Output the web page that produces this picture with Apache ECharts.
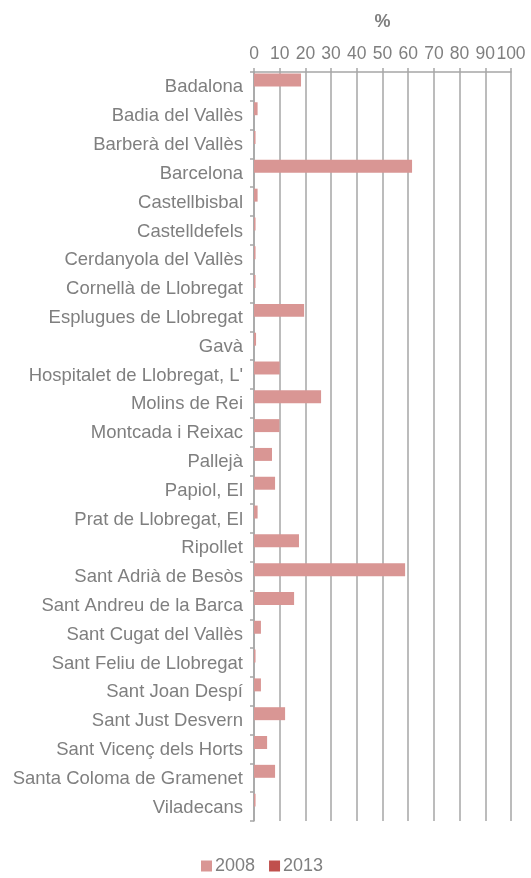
<!DOCTYPE html>
<html>
<head>
<meta charset="utf-8">
<script src="https://cdn.jsdelivr.net/npm/echarts@6/dist/echarts.min.js"></script>
<style>
  html, body { margin: 0; padding: 0; background: #fff; }
  #chart { width: 531px; height: 878px; }
</style>
</head>
<body>
<div id="chart"></div>
<script>
// Municipalities, top to bottom
const municipis = [
  'Badalona', 'Badia del Vallès', 'Barberà del Vallès', 'Barcelona', 'Castellbisbal',
  'Castelldefels', 'Cerdanyola del Vallès', 'Cornellà de Llobregat', 'Esplugues de Llobregat',
  'Gavà', "Hospitalet de Llobregat, L'", 'Molins de Rei', 'Montcada i Reixac', 'Pallejà',
  'Papiol, El', 'Prat de Llobregat, El', 'Ripollet', 'Sant Adrià de Besòs',
  'Sant Andreu de la Barca', 'Sant Cugat del Vallès', 'Sant Feliu de Llobregat',
  'Sant Joan Despí', 'Sant Just Desvern', 'Sant Vicenç dels Horts',
  'Santa Coloma de Gramenet', 'Viladecans'
];

// Percentages per year
const valors2008 = [
  18.3, 1.4, 0.6, 61.5, 1.4,
  0.6, 0.6, 0.6, 19.5,
  0.8, 10.0, 26.1, 9.9, 7.0,
  8.2, 1.4, 17.5, 58.8,
  15.6, 2.7, 0.6,
  2.7, 12.1, 5.1,
  8.2, 0.6
];
const valors2013 = [
  0, 0, 0, 0, 0,
  0, 0, 0, 0,
  0, 0, 0, 0, 0,
  0, 0, 0, 0,
  0, 0, 0,
  0, 0, 0,
  0, 0
];

const series = ['2008', '2013'];
const colors = ['#d99694', '#c0504d'];

const gray = '#7f7f7f';
const lineGray = '#a6a6a6';
const font = 'Liberation Sans, Arial, sans-serif';

const chart = echarts.init(document.getElementById('chart'));
chart.setOption({
  animation: false,
  textStyle: { fontFamily: font },
  grid: { left: 254, right: 20, top: 72, bottom: 57 },
  legend: {
    data: series,
    bottom: -2,
    left: 196,
    itemWidth: 11,
    itemHeight: 11,
    itemGap: 14,
    icon: 'rect',
    textStyle: { color: gray, fontSize: 18, fontFamily: font, padding: [0, 0, 0, -2] }
  },
  xAxis: {
    type: 'value',
    position: 'top',
    min: 0,
    max: 100,
    interval: 10,
    name: '%',
    nameLocation: 'middle',
    nameGap: 41,
    nameTextStyle: { color: gray, fontSize: 18, fontWeight: 'bold', fontFamily: font },
    axisLine: { show: true, lineStyle: { color: lineGray, width: 1.5 } },
    axisTick: { show: true, length: 4, lineStyle: { color: lineGray, width: 1.5 } },
    splitLine: { show: true, lineStyle: { color: lineGray, width: 1.5 } },
    axisLabel: { color: gray, fontSize: 17.5, margin: 9, fontFamily: font }
  },
  yAxis: {
    type: 'category',
    inverse: true,
    data: municipis,
    axisLine: { show: true, lineStyle: { color: lineGray, width: 1.5 } },
    axisTick: { show: true, length: 4, lineStyle: { color: lineGray, width: 1.5 } },
    axisLabel: {
      color: gray, fontSize: 18.5, margin: 11, fontFamily: font,
      verticalAlign: 'top', lineHeight: 20, padding: [-9, 0, 0, 0]
    }
  },
  series: [
    { name: series[0], type: 'bar', data: valors2008, itemStyle: { color: colors[0] }, barGap: '0%', barCategoryGap: '10%' },
    { name: series[1], type: 'bar', data: valors2013, itemStyle: { color: colors[1] }, barGap: '0%', barCategoryGap: '10%' }
  ]
});
</script>
</body>
</html>
